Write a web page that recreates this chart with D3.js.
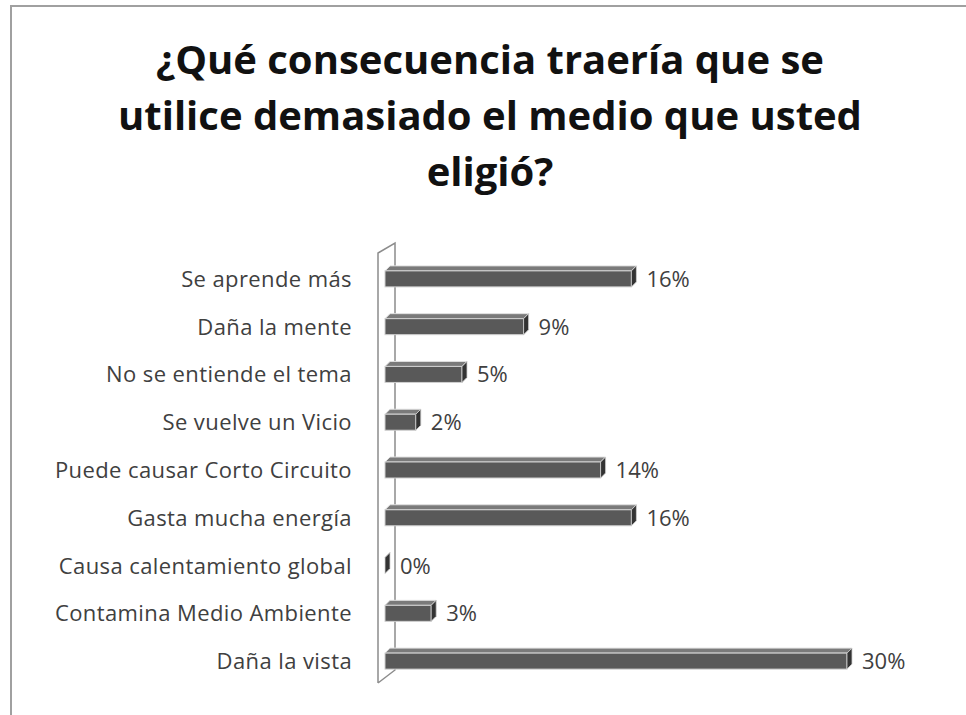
<!DOCTYPE html>
<html lang="es">
<head>
    <meta charset="UTF-8">
    <title>Consecuencias</title>
    <script src="https://cdn.jsdelivr.net/npm/d3@7"></script>
</head>
<style>
    body { margin: 0; background: #fff; }
</style>
<body>

</body>
</html>
<script>

    // datos
    var categorias = ["Se aprende más", "Daña la mente", "No se entiende el tema", "Se vuelve un Vicio",
        "Puede causar Corto Circuito", "Gasta mucha energía", "Causa calentamiento global",
        "Contamina Medio Ambiente", "Daña la vista"];
    var valores = [16, 9, 5, 2, 14, 16, 0, 3, 30];
    var titulo = ["¿Qué consecuencia traería que se", "utilice demasiado el medio que usted", "eligió?"];

    var w = 966;
    var h = 715;
    var depth = 5;      // profundidad 3D de las barras
    var barH = 16;

    var svg = d3.select("body")
            .append("svg")
            .attr("width", w)
            .attr("height", h);

    // marco
    svg.append("path")
            .attr("d", "M11," + h + " L11,6 L" + w + ",6")
            .attr("fill", "none")
            .attr("stroke", "#a0a0a0")
            .attr("stroke-width", 2);

    // título
    svg.selectAll("text.titulo")
            .data(titulo)
            .enter()
            .append("text")
            .attr("class", "titulo")
            .text(function (d) { return d; })
            .attr("x", 490)
            .attr("y", function (d, i) { return 74 + i * 56; })
            .attr("text-anchor", "middle")
            .attr("font-family", "'Open Sans', sans-serif")
            .attr("font-weight", "bold")
            .attr("font-size", "40px")
            .attr("fill", "#111");

    var x = d3.scaleLinear().domain([0, 30]).range([385, 847]);
    var y = d3.scaleBand().domain(categorias).range([253, 683]);

    // pared del eje (3D)
    var x0 = 378, x1 = 395;
    svg.append("path")
            .attr("d", "M" + x0 + "," + y.range()[1] + " L" + x0 + "," + y.range()[0] +
                " L" + x1 + "," + (y.range()[0] - 10) + " L" + x1 + "," + (y.range()[1] - 13) +
                " L" + x0 + "," + y.range()[1])
            .attr("fill", "none")
            .attr("stroke", "#8c8c8c")
            .attr("stroke-width", 1.5);

    var barras = svg.selectAll("g.barra")
            .data(valores)
            .enter()
            .append("g")
            .attr("class", "barra");

    function barTop(d, i) { return y(categorias[i]) + y.bandwidth() / 2 - barH / 2 + 2; }

    // cara superior
    barras.append("path")
            .attr("d", function (d, i) {
                var t = barTop(d, i), xe = x(d);
                return "M" + x(0) + "," + t + " L" + (x(0) + depth) + "," + (t - depth) +
                    " L" + (xe + depth) + "," + (t - depth) + " L" + xe + "," + t + "Z";
            })
            .attr("fill", "#7a7a7a")
            .attr("stroke", "#e0e0e0")
            .attr("stroke-width", 1);

    // cara frontal
    barras.append("rect")
            .attr("x", x(0))
            .attr("y", barTop)
            .attr("width", function (d) { return x(d) - x(0); })
            .attr("height", barH)
            .attr("fill", "#595959")
            .attr("stroke", "#d0d0d0")
            .attr("stroke-width", 1);

    // cara lateral
    barras.append("path")
            .attr("d", function (d, i) {
                var t = barTop(d, i), xe = x(d);
                return "M" + xe + "," + t + " L" + (xe + depth) + "," + (t - depth) +
                    " L" + (xe + depth) + "," + (t + barH - depth) + " L" + xe + "," + (t + barH) + "Z";
            })
            .attr("fill", "#333")
            .attr("stroke", "#d0d0d0")
            .attr("stroke-width", 0.8);

    // etiquetas de valor
    barras.append("text")
            .text(function (d) { return d + "%"; })
            .attr("x", function (d) { return x(d) + 15; })
            .attr("y", function (d, i) { return y(categorias[i]) + y.bandwidth() / 2 + 10; })
            .attr("font-family", "'Open Sans', sans-serif")
            .attr("font-size", "22px")
            .attr("fill", "#404040");

    // etiquetas de categoría
    svg.selectAll("text.cat")
            .data(categorias)
            .enter()
            .append("text")
            .attr("class", "cat")
            .text(function (d) { return d; })
            .attr("x", 352)
            .attr("y", function (d) { return y(d) + y.bandwidth() / 2 + 10; })
            .attr("text-anchor", "end")
            .attr("font-family", "'Open Sans', sans-serif")
            .attr("font-size", "22px")
            .attr("letter-spacing", "0.4px")
            .attr("fill", "#404040");
</script>
